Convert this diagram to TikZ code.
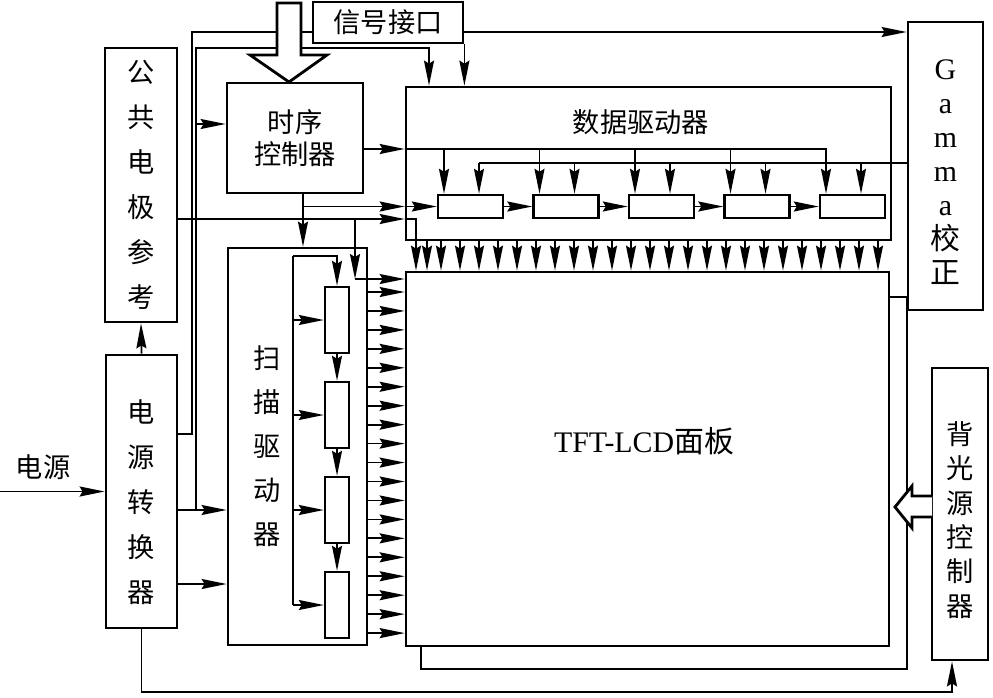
\documentclass[tikz,border=0pt]{standalone}
\usepackage{fontspec}
\setmainfont{Liberation Serif}
\newfontfamily\cjk{Noto Sans CJK SC}
\usetikzlibrary{arrows.meta, positioning}

\begin{document}
\begin{tikzpicture}[x=0.02cm, y=-0.02cm, bx/.style={rectangle,draw,line width=1.6pt,fill=white,inner sep=0pt}, rg/.style={bx,line width=1.4pt}, ln/.style={line width=1pt}, arr/.style={ln,-{Stealth[length=0.5cm,width=0.2cm,inset=0.06cm]}}, cn/.style={font=\cjk\fontsize{15.5}{18}\selectfont,align=center}, vt/.style={font=\cjk\fontsize{15.5}{25.6}\selectfont,align=center}]
  \useasboundingbox (0,0) rectangle (993,697);
  \node[bx,minimum width=9.72cm,minimum height=7.44cm](sh) at (664,483){};
  \node[bx,minimum width=9.66cm,minimum height=7.48cm](pan) at (647.5,459){};
  \node[font=\fontsize{17}{19}\selectfont](pant) at (644,441){TFT-LCD{\cjk 面板}};
  \node[bx,minimum width=9.7cm,minimum height=3.06cm](dd) at (648.5,163.5){};
  \node[cn](ddt) at (641,122){数据驱动器};
  \foreach \i in {1,...,5}{\node[rg,minimum width=1.3cm,minimum height=0.46cm](r\i) at ({470.5+95.5*(\i-1)},206.5){};}
  \node[bx,cn,minimum width=3cm,minimum height=0.82cm](sig) at (388,22.5){信号接口};
  \node[bx,cn,minimum width=2.72cm,minimum height=2.2cm](tc) at (295,138){时序\\控制器};
  \node[bx,minimum width=1.5cm,minimum height=5.76cm](gam) at (945.5,166){};
  \node[align=center,font=\fontsize{17}{19.3}\selectfont](gmt) at (945.5,172){G\\a\\m\\m\\a\\{\cjk 校}\\{\cjk 正}};
  \node[bx,minimum width=1.12cm,minimum height=5.84cm](bl) at (960,514){};
  \node[vt,font=\cjk\fontsize{15.5}{19.5}\selectfont](blt) at (960,520){背\\光\\源\\控\\制\\器};
  \node[bx,vt,minimum width=1.44cm,minimum height=5.48cm](ce) at (141,185){公\\共\\电\\极\\参\\考};
  \node[bx,minimum width=1.42cm,minimum height=5.46cm](pc) at (141.5,491.5){};
  \node[vt](pct) at (141.5,502){电\\源\\转\\换\\器};
  \node[bx,minimum width=2.78cm,minimum height=7.94cm](sd) at (297.5,446.5){};
  \node[vt,font=\cjk\fontsize{15.5}{25}\selectfont](sdt) at (267,446){扫\\描\\驱\\动\\器};
  \foreach \i in {1,...,4}{\node[rg,minimum width=0.48cm,minimum height=1.32cm](s\i) at (337,{320+95*(\i-1)}){};}
  \node[cn](inp) at (43,467){电源};
  % power converter outputs
  \draw[arr](0,491.5)--(pc.west);
  \draw[ln](pc.east |- 0,434)--(192,434)--(192,32)--(sig.west |- 0,32);
  \draw[arr](sig.east |- 0,32)--(gam.west |- 0,32);
  \draw[arr](pc.east |- 0,510)--(sd.west |- 0,510);
  \draw[arr](196,510)--(196,48)--(429,48)--(429,0 |- dd.north);
  \draw[arr](196,124)--(tc.west |- 0,124);
  \draw[arr](pc.east |- 0,584)--(sd.west |- 0,584);
  \draw[arr](pc.south)--(pc.south |- 0,692)--(952,692)--(952,0 |- bl.south);
  \draw[arr](pc.north)--(ce.south);
  \draw[arr](sig.south east)--(sig.south east |- dd.north);
  % timing controller
  \draw[arr](tc.east |- 0,149)--(dd.west |- 0,149);
  \draw[ln](dd.west |- 0,149)--(827,149);
  \draw[arr](303,0 |- tc.south)--(303,0 |- sd.north);
  \draw[arr](303,0 |- r1.west)--(dd.west |- r1.west);
  \draw[arr](dd.west |- r1.west)--(r1.west);
  % common electrode
  \draw[arr](ce.east |- 0,219)--(dd.west |- 0,219);
  \draw[arr](dd.west |- 0,219)--(416,219)--(416,0 |- pan.north);
  \draw[arr](355,219)--(355,279);
  \draw[arr](355,279)--(pan.west |- 0,279);
  \draw[ln](gam.west |- 0,163)--(479,163);
  \foreach \i in {1,...,5}{
    \pgfmathsetmacro\xa{444+95.5*(\i-1)}
    \pgfmathsetmacro\xb{479+95.5*(\i-1)}
    \draw[arr](\xa,149)--(\xa,0 |- r\i.north);
    \draw[arr](\xb,163)--(\xb,0 |- r\i.north);
  }
  \foreach \a/\b in {r1/r2,r2/r3,r3/r4,r4/r5}{\draw[arr](\a)--(\b);}
  % scan driver
  \draw[ln](293,256)--(293,0 |- s4.west);
  \draw[arr](293,256)--(337,256)--(s1.north);
  \foreach \i in {1,...,4}{\draw[arr](293,0 |- s\i.west)--(s\i.west);}
  \foreach \a/\b in {s1/s2,s2/s3,s3/s4}{\draw[arr](\a)--(\b);}
  \foreach \k in {0,...,18}{
    \pgfmathsetmacro\yy{292+18.95*\k}
    \draw[arr](sd.east |- 0,\yy)--(pan.west |- 0,\yy);
  }
  \foreach \x in {427,441,460,...,878}{\draw[arr](\x,0 |- dd.south)--(\x,0 |- pan.north);}
  % hollow arrows
  \draw[line width=1.6pt,fill=white](277,3)--(277,55)--(250,55)--(289,82)--(327,55)--(301,55)--(301,3)--cycle;
  \draw[line width=1.6pt,fill=white](932,496)--(912,496)--(912,486)--(895,507)--(912,528)--(912,517)--(932,517);
\end{tikzpicture}
\end{document}
